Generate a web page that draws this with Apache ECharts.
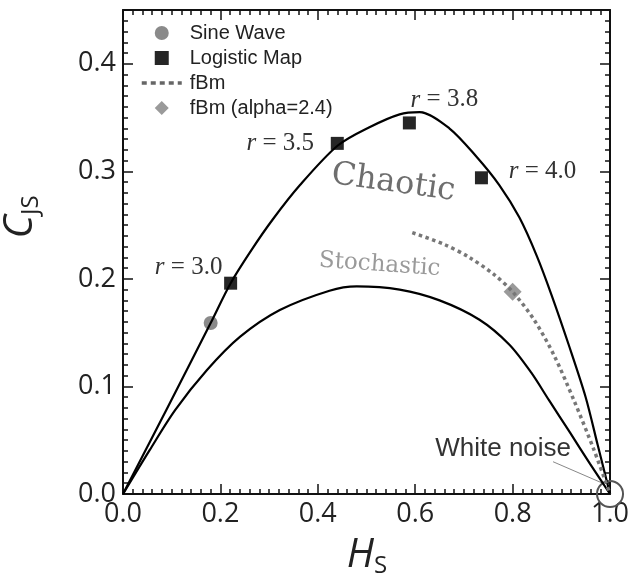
<!DOCTYPE html>
<html>
<head>
<meta charset="utf-8">
<title>Complexity-entropy plane</title>
<script src="https://cdn.jsdelivr.net/npm/echarts@6/dist/echarts.min.js"></script>
<style>
html,body{margin:0;padding:0;background:#fff;}
#main{width:632px;height:581px;}
</style>
</head>
<body>
<div id="main"></div>
<script type="text/javascript">
// upper (maximum) complexity curve
var upperH = [0, 0.090, 0.180, 0.221, 0.264, 0.307, 0.363, 0.441, 0.506, 0.568, 0.609, 0.670, 0.725, 0.773, 0.814, 0.850, 0.880, 0.915, 0.950, 0.975, 1.0];
var upperC = [0, 0.079, 0.159, 0.196, 0.227, 0.255, 0.287, 0.324, 0.341, 0.353, 0.355, 0.340, 0.314, 0.287, 0.257, 0.221, 0.185, 0.139, 0.090, 0.045, 0];
// lower (minimum) complexity curve
var lowerH = [0, 0.055, 0.107, 0.172, 0.240, 0.322, 0.424, 0.480, 0.568, 0.650, 0.732, 0.793, 0.838, 0.875, 0.918, 0.959, 1.0];
var lowerC = [0, 0.041, 0.078, 0.115, 0.146, 0.171, 0.189, 0.193, 0.190, 0.180, 0.162, 0.139, 0.113, 0.087, 0.057, 0.028, 0];
// fBm
var fbmH = [0.594, 0.660, 0.711, 0.762, 0.80, 0.844, 0.885, 0.926, 0.967, 1.0];
var fbmC = [0.243, 0.232, 0.220, 0.204, 0.188, 0.162, 0.129, 0.087, 0.041, 0];
// points
var sineH = [0.18];
var sineC = [0.159];
var logisticH = [0.221, 0.44, 0.588, 0.736];
var logisticC = [0.196, 0.326, 0.345, 0.294];
var logisticR = ['3.0', '3.5', '3.8', '4.0'];
var fbmAlphaH = [0.80];
var fbmAlphaC = [0.188];
var noiseH = [1.0];
var noiseC = [0.0];

// label offsets of "r = ..." (px from the square)
var rLabelOffset = [[-42, -16], [-57, 0], [35, -23], [61, -6]];

function pairs(h, c) {
    return h.map(function (v, i) { return [v, c[i]]; });
}

var tickFont = 'Open Sans';

function makeAxis(pos, max, interval, len, withLabel, withLine) {
    return {
        type: 'value', position: pos, min: 0, max: max, interval: interval,
        axisLine: { show: withLine, onZero: false, lineStyle: { color: '#111', width: 2 } },
        axisTick: { show: true, inside: true, length: len, lineStyle: { color: '#111', width: 1.5 } },
        axisLabel: {
            show: withLabel, margin: 7, fontSize: 27, fontFamily: tickFont, color: '#222',
            showMaxLabel: max === 1,
            formatter: function (v) { return v.toFixed(1); }
        },
        splitLine: { show: false }
    };
}

var myChart = echarts.init(document.getElementById('main'));

var option = {
    animation: false,
    backgroundColor: '#fff',
    grid: { left: 123, right: 21, top: 10, bottom: 87 },
    xAxis: [
        makeAxis('bottom', 1, 0.2, 10, true, true),
        makeAxis('bottom', 1, 0.02, 5, false, false),
        makeAxis('top', 1, 0.2, 10, false, true),
        makeAxis('top', 1, 0.02, 5, false, false)
    ],
    yAxis: [
        makeAxis('left', 0.45, 0.1, 10, true, true),
        makeAxis('left', 0.45, 0.01, 5, false, false),
        makeAxis('right', 0.45, 0.1, 10, false, true),
        makeAxis('right', 0.45, 0.01, 5, false, false)
    ],
    legend: {
        orient: 'vertical', left: 135, top: 18,
        itemWidth: 40, itemHeight: 14, itemGap: 5,
        textStyle: { fontSize: 20, fontFamily: 'Liberation Sans', color: '#222', padding: [0, 0, 0, 3] },
        data: [
            { name: 'Sine Wave', icon: 'circle' },
            { name: 'Logistic Map', icon: 'path://M0,0H10V10H0Z' },
            {
                name: 'fBm', itemStyle: { color: 'rgba(0,0,0,0)', borderWidth: 0 },
                lineStyle: { color: '#666', width: 3.5, type: [5, 4] }
            },
            { name: 'fBm (alpha=2.4)', icon: 'path://M5,0L10,5L5,10L0,5Z' }
        ]
    },
    series: [
        {
            name: 'max', type: 'line', data: pairs(upperH, upperC), smooth: 0.3,
            showSymbol: false, lineStyle: { color: '#000', width: 2.2 }, itemStyle: { color: '#000' }, silent: true
        },
        {
            name: 'min', type: 'line', data: pairs(lowerH, lowerC), smooth: 0.3,
            showSymbol: false, lineStyle: { color: '#000', width: 2.2 }, itemStyle: { color: '#000' }, silent: true
        },
        {
            name: 'fBm', type: 'line', data: pairs(fbmH, fbmC), smooth: 0.3,
            symbol: 'none', lineStyle: { color: '#777', width: 3.5, type: 'dotted' }, itemStyle: { color: '#777' }
        },
        {
            name: 'Sine Wave', type: 'scatter', data: pairs(sineH, sineC),
            symbol: 'circle', symbolSize: 14, itemStyle: { color: '#8a8a8a', opacity: 1 }
        },
        {
            name: 'Logistic Map', type: 'scatter', data: pairs(logisticH, logisticC),
            symbol: 'rect', symbolSize: 13, itemStyle: { color: '#262626', opacity: 1 },
            label: {
                show: true, position: 'inside',
                offset: [0, 0],
                fontFamily: 'Liberation Serif', fontSize: 25, color: '#333',
                formatter: function (p) { return '{i|r} = ' + logisticR[p.dataIndex]; },
                rich: { i: { fontFamily: 'Liberation Serif', fontStyle: 'italic', fontSize: 25, color: '#333' } }
            }
        },
        {
            name: 'fBm (alpha=2.4)', type: 'scatter', data: pairs(fbmAlphaH, fbmAlphaC),
            symbol: 'diamond', symbolSize: 18, itemStyle: { color: '#9a9a9a', opacity: 1 }
        },
        {
            name: 'White noise', type: 'scatter', data: pairs(noiseH, noiseC),
            symbol: 'circle', symbolSize: 26,
            itemStyle: { color: 'rgba(0,0,0,0)', borderColor: '#555', borderWidth: 2, opacity: 1 }
        }
    ]
};

// per-point label offsets
option.series[4].data = option.series[4].data.map(function (d, i) {
    return { value: d, label: { offset: rLabelOffset[i] } };
});

myChart.setOption(option);

function px(h, c) {
    return myChart.convertToPixel({ seriesIndex: 0 }, [h, c]);
}

var pChaotic = px(0.555, 0.289);
var pStoch = px(0.527, 0.213);
var pNoiseText = px(0.92, 0.042);
var pLineA = px(0.883, 0.030);
var pLineB = px(0.985, 0.010);
var pC = [22, 217];
var pH = [367, 557];

var titleRich = {
    c: { fontFamily: 'Open Sans', fontStyle: 'italic', fontSize: 40, verticalAlign: 'bottom', padding: [0, 0, 3, 0], fill: '#222' },
    s: { fontFamily: 'Open Sans', fontSize: 24, verticalAlign: 'bottom', fill: '#222' }
};

myChart.setOption({
    graphic: [
        {
            type: 'text', x: pChaotic[0], y: pChaotic[1], rotation: -8 * Math.PI / 180,
            style: { text: 'Chaotic', fontFamily: 'DejaVu Serif', fontSize: 32, fill: '#6e6e6e', align: 'center', verticalAlign: 'middle' }
        },
        {
            type: 'text', x: pStoch[0], y: pStoch[1], rotation: -4 * Math.PI / 180,
            style: { text: 'Stochastic', fontFamily: 'DejaVu Serif', fontSize: 23, fill: '#9a9a9a', align: 'center', verticalAlign: 'middle' }
        },
        {
            type: 'text', x: pNoiseText[0], y: pNoiseText[1],
            style: { text: 'White noise', fontFamily: 'Liberation Sans', fontSize: 26, fill: '#333', align: 'right', verticalAlign: 'middle' }
        },
        {
            type: 'line', shape: { x1: pLineA[0], y1: pLineA[1], x2: pLineB[0], y2: pLineB[1] },
            style: { stroke: '#888', lineWidth: 1 }
        },
        {
            type: 'text', x: pC[0], y: pC[1], rotation: Math.PI / 2,
            style: { text: '{c|C}{s|JS}', align: 'center', verticalAlign: 'middle', rich: titleRich }
        },
        {
            type: 'text', x: pH[0], y: pH[1],
            style: { text: '{c|H}{s|S}', align: 'center', verticalAlign: 'middle', rich: titleRich }
        }
    ]
});
</script>
</body>
</html>
